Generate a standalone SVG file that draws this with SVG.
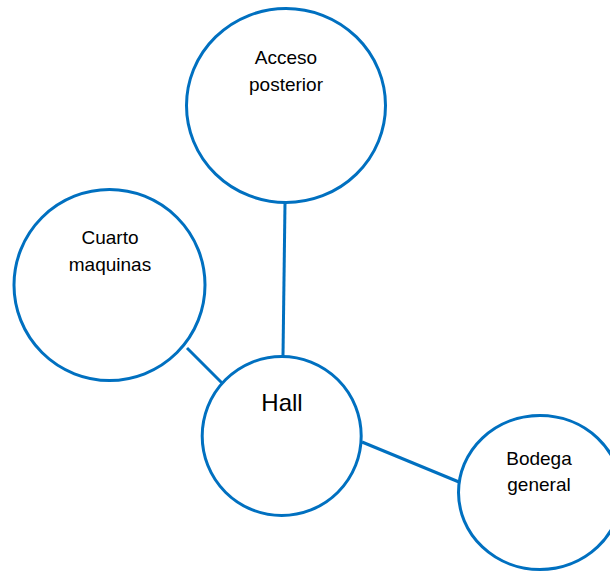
<svg xmlns="http://www.w3.org/2000/svg" width="610" height="572" viewBox="0 0 610 572">
<style>
.node{fill:#fff;stroke:#0070C0;stroke-width:3}
.edge{stroke:#0070C0;stroke-width:3;fill:none}
.lbl{font-family:"Liberation Sans",Arial,sans-serif;font-size:19px;fill:#000;text-anchor:middle}
.big{font-size:24px}
</style>
<rect width="610" height="572" fill="#fff"/>
<g id="connectors">
<line class="edge" x1="285" y1="203" x2="283" y2="356"/>
<line class="edge" x1="187" y1="348" x2="222" y2="383"/>
<line class="edge" x1="362" y1="442" x2="459" y2="482"/>
</g>
<g id="acceso">
<ellipse class="node" cx="286" cy="105.5" rx="99.5" ry="97"/>
<text class="lbl" x="286" y="64">Acceso</text>
<text class="lbl" x="286" y="90.5">posterior</text>
</g>
<g id="cuarto">
<circle class="node" cx="109.5" cy="285" r="95.5"/>
<text class="lbl" x="110" y="244.3">Cuarto</text>
<text class="lbl" x="110" y="270.7">maquinas</text>
</g>
<g id="hall">
<circle class="node" cx="281.7" cy="436" r="79.5"/>
<text class="lbl big" x="282" y="411">Hall</text>
</g>
<g id="bodega">
<ellipse class="node" cx="540" cy="492.5" rx="81.5" ry="77"/>
<text class="lbl" x="539" y="465">Bodega</text>
<text class="lbl" x="539" y="491">general</text>
</g>
</svg>
